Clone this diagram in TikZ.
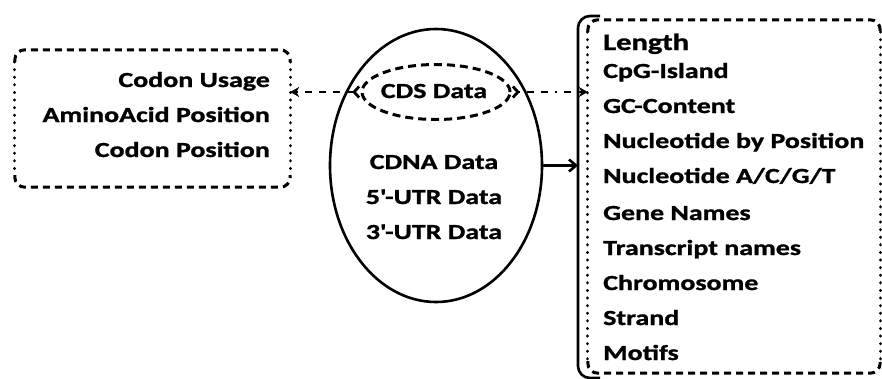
\documentclass[tikz,border=0pt]{standalone}
\usepackage{fontspec}
\setmainfont{Carlito}
\newfontfamily\labfont{Carlito}[FakeStretch=1.3, FakeBold=1.2, BoldFont={Carlito Bold}]
\usetikzlibrary{arrows.meta,shapes.geometric}
\tikzset{
  txt/.style={inner sep=0pt, font=\labfont\fontsize{21.5}{24}\selectfont\bfseries},
  sidedot/.style={line width=3.2pt, dash pattern=on 0.1pt off 7.5pt, line cap=round},
  edgedash/.style={line width=3pt, dash pattern=on 7pt off 5pt},
  holder/.style={inner sep=0pt, draw=none},
}
\begin{document}
\begin{tikzpicture}[x=1pt,y=-1pt]
\useasboundingbox (0,0) rectangle (882,378);
\fill[white] (0,0) rectangle (882,378);

% ---- left box
\node[holder, minimum width=275pt, minimum height=137pt] (lbox) at (152.5,118.5) {};
\draw[edgedash, rounded corners=10pt] (lbox.west |- 0,62) |- (lbox.north) -| (lbox.east |- 0,62);
\draw[edgedash, rounded corners=10pt] (lbox.west |- 0,175) |- (lbox.south) -| (lbox.east |- 0,175);
\draw[sidedot] (lbox.west |- 0,62) -- (lbox.west |- 0,175);
\draw[sidedot] (lbox.east |- 0,62) -- (lbox.east |- 0,175);
\node[txt, anchor=base east] (cu) at (270,87) {Codon Usage};
\node[txt, anchor=base east] (aap) at (270,122) {AminoAcid Position};
\node[txt, anchor=base east] (cp) at (270,157) {Codon Position};

% ---- main ellipse
\node[holder, draw=black, line width=2.6pt, ellipse, minimum width=212pt, minimum height=273pt] (main) at (436,165.5) {};
\node[holder, draw=black, ellipse, line width=3pt, dash pattern=on 8pt off 5pt, minimum width=148pt, minimum height=55pt] (cds) at (436,92) {};
\node[txt, anchor=base] (cdstxt) at (434,98) {CDS Data};
\node[txt, anchor=base] (cdna) at (434,169) {CDNA Data};
\node[txt, anchor=base] (utr5) at (434,204) {5\textquotesingle-UTR Data};
\node[txt, anchor=base] (utr3) at (434,239) {3\textquotesingle-UTR Data};

% ---- right box
\node[holder, minimum width=292pt, minimum height=353pt] (rbox) at (734,196.5) {};
\draw[edgedash, rounded corners=10pt] (rbox.west |- 0,32) |- (rbox.north) -| (rbox.east |- 0,32);
\draw[edgedash, rounded corners=10pt] (rbox.west |- 0,361) |- (rbox.south) -| (rbox.east |- 0,361);
\draw[sidedot] (rbox.west |- 0,32) -- (rbox.west |- 0,361);
\draw[sidedot] (rbox.east |- 0,32) -- (rbox.east |- 0,361);
\coordinate (solidtop) at (600,16);
\coordinate (solidbot) at (600,378);
\draw[line width=2.6pt, rounded corners=12pt] (solidtop) -| (578,200) |- (solidbot);
\coordinate (solidin) at (578,165.5);

\node[txt, anchor=base west, font=\labfont\fontsize{23.5}{26}\selectfont\bfseries] (len) at (603,50) {Length};
\node[txt, anchor=base west] (cpg) at (603,78) {CpG-Island};
\node[txt, anchor=base west] (gc) at (603,113) {GC-Content};
\node[txt, anchor=base west] (nbp) at (603,148) {Nucleotide by Position};
\node[txt, anchor=base west] (nacgt) at (603,183) {Nucleotide A/C/G/T};
\node[txt, anchor=base west] (gn) at (603,220) {Gene Names};
\node[txt, anchor=base west] (tn) at (603,255) {Transcript names};
\node[txt, anchor=base west] (chr) at (603,290) {Chromosome};
\node[txt, anchor=base west] (str) at (603,325) {Strand};
\node[txt, anchor=base west] (mot) at (603,360) {Motifs};

% ---- connectors
\draw[line width=2.8pt, dash pattern=on 7pt off 7pt,
      {Straight Barb[reversed,length=5pt,width=11pt]}-{Stealth[length=9pt,width=10pt]}]
  (cds.west) -- (cds.west -| lbox.east);
\draw[line width=2.8pt, dash pattern=on 2pt off 7pt on 7pt off 7pt on 7pt off 7pt,
      {Straight Barb[reversed,length=5pt,width=11pt]}-{Stealth[length=9pt,width=10pt]}]
  (cds.east) -- (cds.east -| rbox.west);
\draw[line width=2.6pt, -{Straight Barb[length=7pt,width=12pt]}] (main.east) -- (solidin);
\end{tikzpicture}
\end{document}
